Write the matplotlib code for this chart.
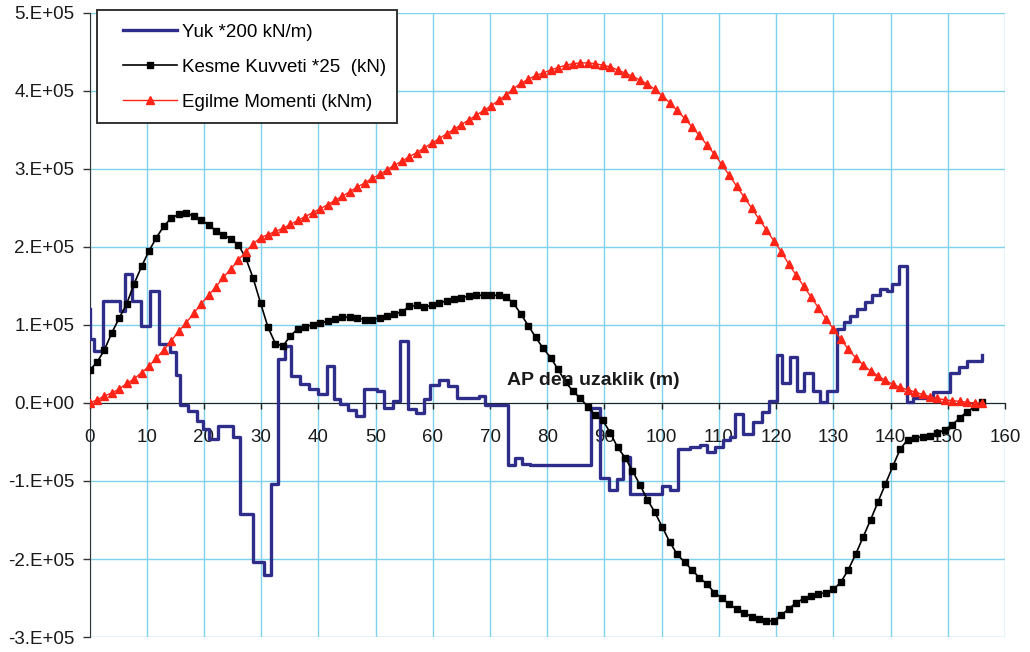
import numpy as np
import matplotlib
matplotlib.use('Agg')
import matplotlib.pyplot as plt
from matplotlib.patches import Rectangle

# all values in units of 1e5
SCALE = 1e5

# load curve (step), x = start of each step (m)
load_x = [0.0, 0.0, 0.7, 2.4, 5.3, 6.2, 7.4, 9.0, 10.6, 12.2, 14.1, 15.2, 15.8, 17.3,
          18.7, 19.9, 20.8, 22.5, 25.1, 26.3, 28.6, 30.5, 31.8, 33.0, 34.1, 35.2, 36.8,
          38.4, 40.0, 41.5, 42.7, 43.8, 45.1, 46.5, 47.9, 50.2, 51.4, 53.0, 54.3, 55.7,
          57.1, 58.4, 59.5, 61.0, 62.6, 64.2, 68.0, 69.1, 73.2, 74.4, 75.6, 77.0, 87.6,
          89.3, 90.8, 92.2, 93.2, 94.4, 100.0, 101.5, 102.9, 105.0, 106.7, 107.9, 109.4,
          110.8, 112.0, 112.9, 114.3, 116.0, 117.5, 118.7, 120.1, 121.0, 122.4, 123.6,
          124.8, 126.5, 127.6, 128.9, 130.6, 131.8, 133.0, 134.1, 135.6, 136.7, 138.2,
          139.3, 140.2, 141.4, 142.8, 144.0, 147.5, 150.4, 151.9, 153.3, 156.0]
load_y = [1.20, 0.82, 0.67, 1.31, 1.18, 1.65, 1.31, 0.99, 1.44, 0.76, 0.65, 0.36, -0.03, -0.10,
          -0.23, -0.33, -0.46, -0.29, -0.44, -1.42, -2.04, -2.21, -1.04, 0.56, 0.73, 0.35, 0.24,
          0.18, 0.11, 0.48, 0.05, -0.01, -0.09, -0.17, 0.18, 0.15, -0.06, 0.03, 0.79, -0.08,
          -0.13, 0.05, 0.23, 0.29, 0.22, 0.06, 0.09, -0.03, -0.80, -0.70, -0.78, -0.80, -0.06,
          -0.96, -1.11, -0.97, -0.69, -1.17, -1.06, -1.12, -0.59, -0.57, -0.54, -0.63, -0.56,
          -0.48, -0.43, -0.14, -0.40, -0.25, -0.12, 0.02, 0.62, 0.26, 0.59, 0.15,
          0.39, 0.15, 0.01, 0.15, 0.95, 1.04, 1.12, 1.20, 1.30, 1.38, 1.46,
          1.44, 1.52, 1.76, 0.01, 0.07, 0.14, 0.39, 0.46, 0.54, 0.62]

# stations every 1.3 m from AP (0 .. 156 m)
stations = np.linspace(0, 156, 121)

shear = [0.42, 0.52, 0.68, 0.90, 1.09, 1.27, 1.53, 1.75, 1.95, 2.12,
         2.27, 2.37, 2.42, 2.43, 2.40, 2.35, 2.28, 2.21, 2.16, 2.10,
         2.03, 1.86, 1.60, 1.28, 0.97, 0.76, 0.73, 0.86, 0.95, 0.98,
         1.00, 1.02, 1.05, 1.08, 1.10, 1.10, 1.09, 1.07, 1.07, 1.09,
         1.11, 1.14, 1.17, 1.24, 1.25, 1.23, 1.25, 1.28, 1.31, 1.33,
         1.35, 1.37, 1.38, 1.38, 1.38, 1.38, 1.36, 1.28, 1.14, 0.99,
         0.84, 0.70, 0.58, 0.43, 0.27, 0.15, 0.06, -0.05, -0.16, -0.22,
         -0.38, -0.57, -0.70, -0.87, -1.05, -1.24, -1.40, -1.59, -1.78, -1.94,
         -2.04, -2.14, -2.24, -2.32, -2.43, -2.50, -2.58, -2.64, -2.69, -2.74,
         -2.77, -2.80, -2.79, -2.72, -2.64, -2.56, -2.51, -2.48, -2.45, -2.43,
         -2.39, -2.30, -2.14, -1.94, -1.72, -1.50, -1.27, -1.04, -0.81, -0.59,
         -0.47, -0.45, -0.43, -0.42, -0.39, -0.34, -0.28, -0.19, -0.11, -0.05,
         0.01]

moment = [0.00, 0.04, 0.09, 0.13, 0.18, 0.25, 0.31, 0.39, 0.47, 0.58,
          0.68, 0.80, 0.92, 1.03, 1.15, 1.27, 1.38, 1.49, 1.61, 1.72,
          1.83, 1.94, 2.04, 2.12, 2.16, 2.20, 2.24, 2.29, 2.34, 2.39,
          2.44, 2.49, 2.54, 2.60, 2.65, 2.71, 2.77, 2.82, 2.88, 2.93,
          2.99, 3.05, 3.10, 3.16, 3.21, 3.27, 3.33, 3.39, 3.45, 3.51,
          3.57, 3.63, 3.69, 3.75, 3.81, 3.88, 3.95, 4.03, 4.10, 4.15,
          4.20, 4.23, 4.27, 4.30, 4.33, 4.35, 4.36, 4.36, 4.35, 4.33,
          4.31, 4.27, 4.23, 4.19, 4.14, 4.09, 4.02, 3.94, 3.85, 3.75,
          3.65, 3.54, 3.43, 3.31, 3.19, 3.06, 2.92, 2.78, 2.64, 2.50,
          2.36, 2.22, 2.08, 1.94, 1.78, 1.64, 1.50, 1.36, 1.22, 1.08,
          0.95, 0.82, 0.69, 0.58, 0.49, 0.41, 0.35, 0.29, 0.24, 0.20,
          0.17, 0.14, 0.11, 0.08, 0.06, 0.04, 0.03, 0.02, 0.01, 0.00,
          0.00]

labels = ['Yuk *200 kN/m)', 'Kesme Kuvveti *25  (kN)', 'Egilme Momenti (kNm)']
xticks = list(range(0, 161, 10))
yticks = [-3, -2, -1, 0, 1, 2, 3, 4, 5]
ytick_labels = ['-3.E+05', '-2.E+05', '-1.E+05', '0.E+00', '1.E+05',
                '2.E+05', '3.E+05', '4.E+05', '5.E+05']

plt.rcParams['font.family'] = ['Liberation Sans', 'DejaVu Sans']

fig = plt.figure(figsize=(10.30, 6.52), dpi=100)
ax = fig.add_axes([0.0869, 0.0230, 0.8888, 0.9571])

ax.step(load_x, np.array(load_y) * SCALE, where='post', color='#2e2d8a', lw=2.4,
        zorder=3, label=labels[0])
ax.plot(stations, np.array(shear) * SCALE, color='black', lw=1.2, marker='s',
        markersize=4.7, zorder=4, label=labels[1])
ax.plot(stations, np.array(moment) * SCALE, color='#ff2418', lw=1.0, marker='^',
        markersize=5.8, zorder=5, label=labels[2])

ax.set_xlim(0, 160)
ax.set_ylim(-3e5, 5e5)
ax.set_xticks(xticks)
ax.set_yticks([v * SCALE for v in yticks])
ax.set_yticklabels(ytick_labels)

ax.grid(True, color='#7fd2ee', lw=1.0)
ax.set_axisbelow(True)

for s in ['top', 'right']:
    ax.spines[s].set_visible(False)
ax.spines['bottom'].set_position(('data', 0))
ax.spines['bottom'].set_color('#222222')
ax.spines['left'].set_color('#333333')
ax.tick_params(axis='x', direction='out', length=4, width=1, color='#222222',
               labelsize=13.5, labelcolor='#1a1a1a', pad=15)
ax.tick_params(axis='y', direction='out', length=5, width=1, color='#333333',
               labelsize=13.5, labelcolor='#1a1a1a', pad=6)

ax.text(88, 0.29 * SCALE, 'AP den uzaklik (m)', ha='center', va='center',
        fontsize=14, fontweight='bold', color='#1a1a1a', zorder=6)

# legend with Excel-like box
leg = ax.legend(loc='upper left', bbox_to_anchor=(0.0366, 0.983), borderaxespad=0,
                borderpad=0, frameon=False, fontsize=13.5, handlelength=2.9,
                handletextpad=0.25, labelspacing=0.96, numpoints=1)
leg.set_zorder(8)
box = Rectangle((0.0082, 0.8237), 0.3277, 0.1811, transform=ax.transAxes,
                facecolor='white', edgecolor='#333333', lw=1.4, clip_on=False, zorder=7)
ax.add_patch(box)

fig.savefig('out.png', dpi=100)
